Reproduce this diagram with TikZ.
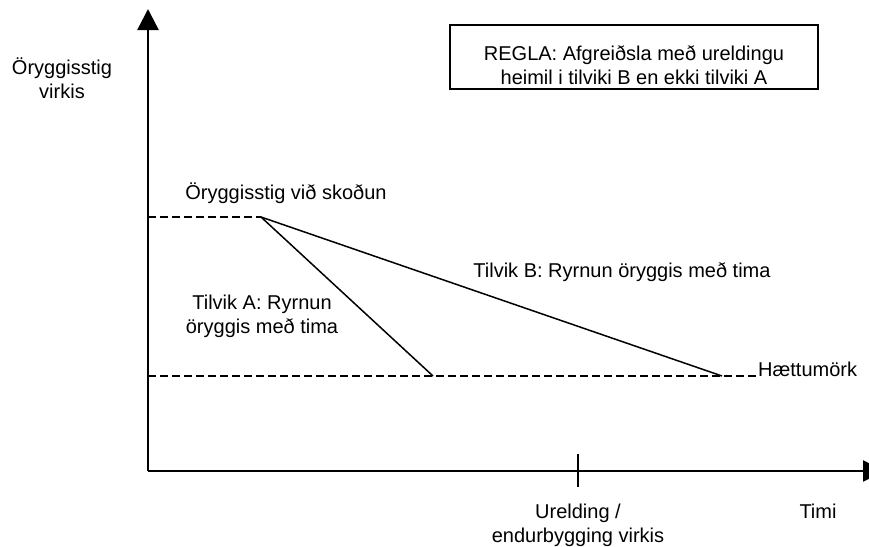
\documentclass[tikz,border=0pt]{standalone}
\usepackage{fontspec}
\setmainfont{Liberation Sans}
\usetikzlibrary{arrows.meta}
\tikzset{
  lbl/.style={font=\fontsize{20}{24}\selectfont, inner sep=0pt, align=center, anchor=base},
  axisline/.style={line width=2.5pt, -{Triangle[length=21pt,width=21pt]}},
  decline/.style={line width=1.5pt},
  dashline/.style={line width=1.5pt, dash pattern=on 8pt off 4pt},
  rulebox/.style={draw, line width=1.5pt, minimum width=368pt, minimum height=64pt, inner sep=0pt}
}
\begin{document}
\begin{tikzpicture}[x=1pt,y=-1pt]
\useasboundingbox (0,0) rectangle (869,546);
% points
\coordinate (O) at (148,471);
\coordinate (ytip) at (148,9);
\coordinate (xtip) at (884,471);
\coordinate (ylev) at (148,217);
\coordinate (P) at (261,217);
\coordinate (hlev) at (148,376);
\coordinate (hend) at (758,376);
\coordinate (A) at (433,376);
\coordinate (B) at (722,376);
\coordinate (tickt) at (578,454);
\coordinate (tickb) at (578,487);
% axes
\draw[axisline] (O) -- (ytip);
\draw[axisline] (O) -- (xtip);
\draw[line width=2pt] (tickt) -- (tickb);
% dashed levels
\draw[dashline] (ylev) -- (P);
\draw[dashline] (hlev) -- (hend);
% decline lines
\draw[decline] (P) -- (A);
\draw[decline] (P) -- (B);
% rule box
\node[rulebox] (rule) at (634,57) {};
\node[lbl] (ruletext) at (634,84) {REGLA: Afgreiðsla með ureldingu\\heimil i tilviki B en ekki tilviki A};
% labels
\node[lbl] (ylabel) at (62,98) {Öryggisstig\\virkis};
\node[lbl] (insp) at (286,199) {Öryggisstig við skoðun};
\node[lbl] (caseB) at (622,277) {Tilvik B: Ryrnun öryggis með tima};
\node[lbl] (caseA) at (262,333) {Tilvik A: Ryrnun\\öryggis með tima};
\node[lbl, anchor=base west] (haz) at (hend) {Hættumörk};
\node[lbl] (obs) at (578,542) {Urelding /\\endurbygging virkis};
\node[lbl] (time) at (818,518) {Timi};
\end{tikzpicture}
\end{document}
